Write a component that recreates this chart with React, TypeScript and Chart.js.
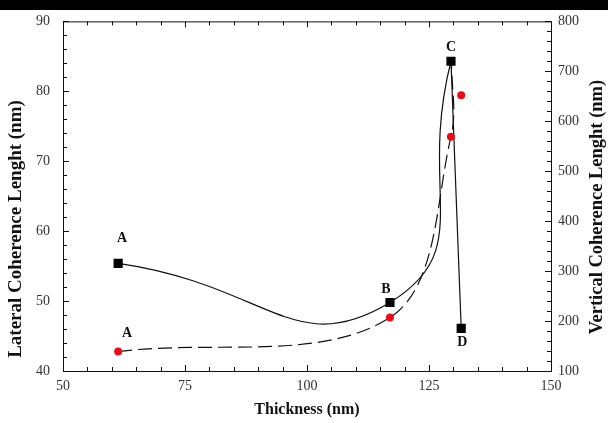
import React, { useEffect, useRef } from 'react';
import { Chart, registerables } from 'chart.js';

Chart.register(...registerables);

// ---- data ----
const thickness = [61.3, 117.0, 129.5, 131.6];
const lateral = [55.4, 49.8, 84.3, 46.1];
const lateralLabels = ['A', 'B', 'C', 'D'];

const verticalThickness = [61.3, 117.0, 129.5, 131.6];
const vertical = [139, 207, 569, 652];
const verticalLabels = ['A', '', '', ''];

// dashed guide curve for the vertical series
const verticalFitThickness = [61.3, 117.0, 129.5, 129.6];
const verticalFit = [139, 207, 569, 722];

const xRange = [50, 150];
const leftRange = [40, 90];
const rightRange = [100, 800];

const FONT = "'Liberation Serif', 'Times New Roman', serif";

const toXY = (xs: number[], ys: number[]) => xs.map((x, i) => ({ x, y: ys[i] }));

const framePlugin = {
  id: 'frame',
  beforeDraw(chart: any) {
    const ctx = chart.ctx;
    ctx.save();
    ctx.fillStyle = '#ffffff';
    ctx.fillRect(0, 0, chart.width, chart.height);
    ctx.fillStyle = '#000000';
    ctx.fillRect(0, 0, chart.width, 10);
    ctx.restore();
  },
  afterDraw(chart: any) {
    const ctx = chart.ctx;
    const { left, right, top, bottom } = chart.chartArea;
    const sx = chart.scales.x;
    const sy = chart.scales.y;
    const sy2 = chart.scales.y2;
    ctx.save();
    ctx.strokeStyle = '#111';
    ctx.lineWidth = 1;
    ctx.strokeRect(left + 0.5, top + 0.5, right - left, bottom - top);
    ctx.beginPath();
    for (let v = xRange[0]; v <= xRange[1]; v += 5) {
      const px = Math.round(sx.getPixelForValue(v)) + 0.5;
      const len = v % 25 === 0 ? 6 : 4;
      ctx.moveTo(px, bottom);
      ctx.lineTo(px, bottom - len);
      ctx.moveTo(px, top);
      ctx.lineTo(px, top + len);
    }
    for (let v = leftRange[0]; v <= leftRange[1]; v += 2) {
      const py = Math.round(sy.getPixelForValue(v)) + 0.5;
      const len = v % 10 === 0 ? 6 : 4;
      ctx.moveTo(left, py);
      ctx.lineTo(left + len, py);
    }
    for (let v = rightRange[0]; v <= rightRange[1]; v += 20) {
      const py = Math.round(sy2.getPixelForValue(v)) + 0.5;
      const len = v % 100 === 0 ? 6 : 4;
      ctx.moveTo(right, py);
      ctx.lineTo(right - len, py);
    }
    ctx.stroke();

    // point labels
    ctx.fillStyle = '#111';
    ctx.font = `bold 14px ${FONT}`;
    ctx.textAlign = 'center';
    ctx.textBaseline = 'middle';
    const offs = [
      [4, -25],
      [-4, -13],
      [0, -14],
      [1, 14],
    ];
    lateralLabels.forEach((t, i) => {
      if (!t) return;
      const px = sx.getPixelForValue(thickness[i]);
      const py = sy.getPixelForValue(lateral[i]);
      ctx.fillText(t, px + offs[i][0], py + offs[i][1]);
    });
    verticalLabels.forEach((t, i) => {
      if (!t) return;
      const px = sx.getPixelForValue(verticalThickness[i]);
      const py = sy2.getPixelForValue(vertical[i]);
      ctx.fillText(t, px + 9, py - 18);
    });

    // axis titles
    ctx.font = `bold 16px ${FONT}`;
    ctx.fillText('Thickness (nm)', (left + right) / 2, 410);
    ctx.save();
    ctx.font = `bold 19px ${FONT}`;
    ctx.translate(16, 229);
    ctx.rotate(-Math.PI / 2);
    ctx.fillText('Lateral Coherence Lenght (nm)', 0, 0);
    ctx.restore();
    ctx.save();
    ctx.font = `bold 18.5px ${FONT}`;
    ctx.translate(597, 207);
    ctx.rotate(-Math.PI / 2);
    ctx.fillText('Vertical Coherence Lenght (nm)', 0, 0);
    ctx.restore();
    ctx.restore();
  },
};

export default function App() {
  const ref = useRef<HTMLCanvasElement | null>(null);

  useEffect(() => {
    if (!ref.current) return;
    const tickFont = { family: FONT, size: 14 };
    const chart = new Chart(ref.current, {
      type: 'line',
      data: {
        datasets: [
          {
            label: 'Lateral',
            data: toXY(thickness, lateral),
            yAxisID: 'y',
            showLine: false,
            pointStyle: 'rect',
            pointRadius: 6.5,
            pointBackgroundColor: '#000',
            pointBorderColor: '#000',
            pointBorderWidth: 0,
            order: 0,
          },
          {
            label: 'Vertical',
            data: toXY(verticalThickness, vertical),
            yAxisID: 'y2',
            showLine: false,
            pointStyle: 'circle',
            pointRadius: 4,
            pointBackgroundColor: '#e3101b',
            pointBorderColor: '#e3101b',
            pointBorderWidth: 0,
            order: 1,
          },
          {
            label: 'Lateral curve',
            data: toXY(thickness.slice(0, 3), lateral.slice(0, 3)),
            yAxisID: 'y',
            borderColor: '#111',
            borderWidth: 1.2,
            tension: 0.55,
            pointRadius: 0,
            fill: false,
            order: 2,
          },
          {
            label: 'Lateral drop',
            data: toXY(thickness.slice(2), lateral.slice(2)),
            yAxisID: 'y',
            borderColor: '#111',
            borderWidth: 1.2,
            tension: 0,
            pointRadius: 0,
            fill: false,
            order: 3,
          },
          {
            label: 'Vertical curve',
            data: toXY(verticalFitThickness, verticalFit),
            yAxisID: 'y2',
            borderColor: '#111',
            borderWidth: 1.2,
            borderDash: [14, 6],
            tension: 0.35,
            pointRadius: 0,
            fill: false,
            order: 4,
          },
        ],
      },
      options: {
        animation: false,
        responsive: false,
        maintainAspectRatio: false,
        layout: { padding: { top: 19, left: 0, right: 0, bottom: 0 } },
        plugins: { legend: { display: false }, tooltip: { enabled: false } },
        scales: {
          x: {
            type: 'linear',
            position: 'bottom',
            min: xRange[0],
            max: xRange[1],
            grid: { display: false, drawTicks: false },
            border: { display: false },
            ticks: { stepSize: 25, font: tickFont, color: '#333', padding: 7, maxRotation: 0 },
            afterFit: (s: any) => {
              s.height = 52;
            },
          },
          y: {
            type: 'linear',
            position: 'left',
            min: leftRange[0],
            max: leftRange[1],
            grid: { display: false, drawTicks: false },
            border: { display: false },
            ticks: { stepSize: 10, font: tickFont, color: '#333', padding: 13 },
            afterFit: (s: any) => {
              s.width = 63;
            },
          },
          y2: {
            type: 'linear',
            position: 'right',
            min: rightRange[0],
            max: rightRange[1],
            grid: { display: false, drawTicks: false },
            border: { display: false },
            ticks: { stepSize: 100, font: tickFont, color: '#333', padding: 7 },
            afterFit: (s: any) => {
              s.width = 57;
            },
          },
        },
      },
      plugins: [framePlugin],
    });
    return () => chart.destroy();
  }, []);

  return (
    <div style={{ position: 'fixed', top: 0, left: 0, width: 608, height: 423, background: '#fff' }}>
      <canvas ref={ref} width={608} height={423} style={{ display: 'block', width: 608, height: 423 }} />
    </div>
  );
}
